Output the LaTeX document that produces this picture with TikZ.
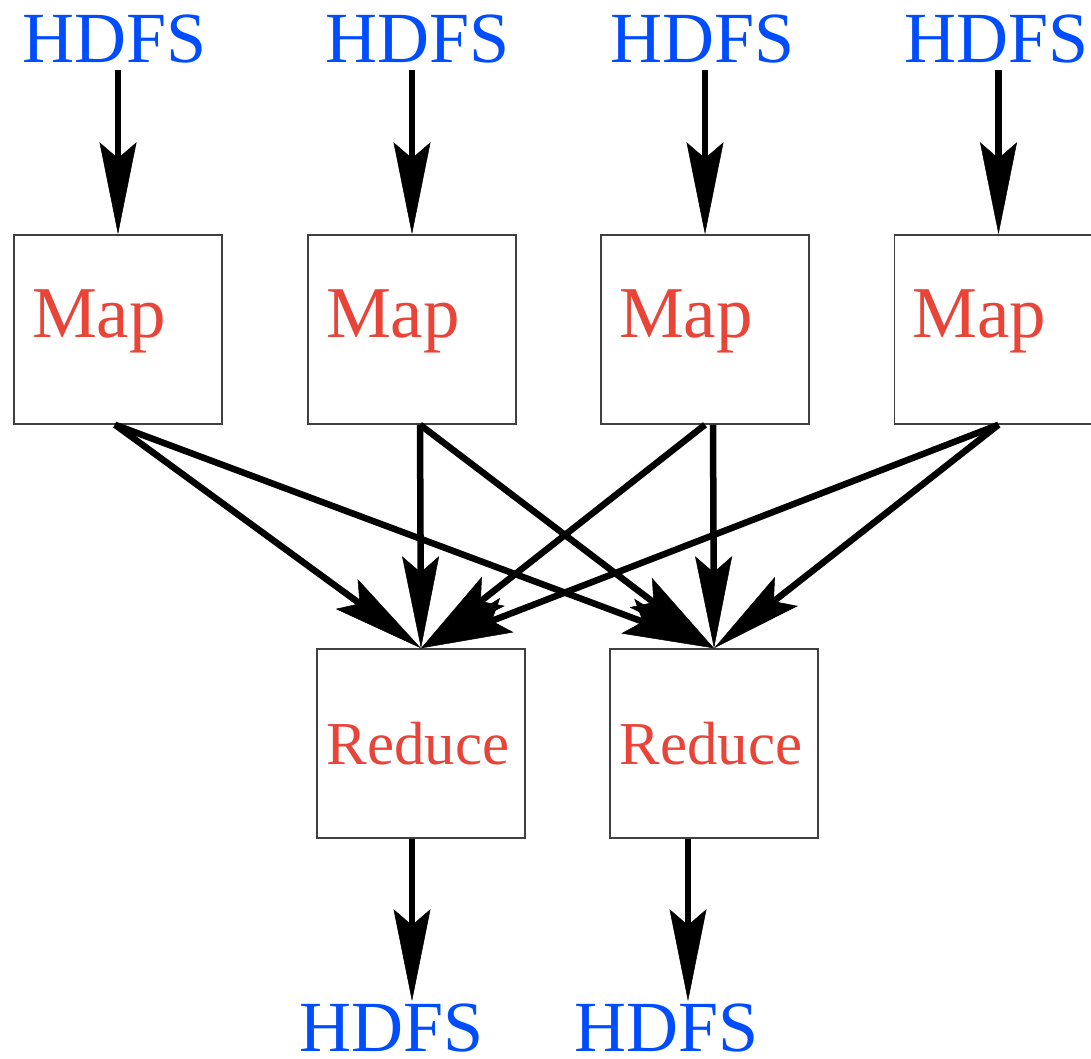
\documentclass[tikz,border=0pt]{standalone}
\usepackage{fontspec}
\setmainfont{Liberation Serif}
\usetikzlibrary{arrows.meta}
\definecolor{hdfsblue}{RGB}{0,76,255}
\definecolor{jobred}{RGB}{232,68,56}
\tikzset{
  hdfs/.style={anchor=base, text=hdfsblue, font=\fontsize{72}{86}\selectfont, inner xsep=0pt},
  mapbox/.style={draw=black!75, line width=1.5pt, text=jobred, font=\fontsize{73}{88}\selectfont,
    text width=172pt, inner xsep=18pt, align=left, text height=48pt, text depth=32pt, minimum height=189pt},
  redbox/.style={draw=black!75, line width=1.5pt, text=jobred, font=\fontsize{61}{73}\selectfont,
    minimum width=208pt, minimum height=189pt, text height=42pt, text depth=0pt},
  flow/.style={line width=6.5pt, -{Stealth[length=92pt, width=37pt, inset=16pt, line width=0.5pt]}}
}
\begin{document}
\begin{tikzpicture}[x=1pt,y=-1pt]
                \useasboundingbox (0,0) rectangle (1091,1058);

                \node[hdfs, inner ysep=7pt] (in1) at (115,62) {HDFS};
                \node[hdfs, inner ysep=7pt] (in2) at (418,62) {HDFS};
                \node[hdfs, inner ysep=7pt] (in3) at (703,62) {HDFS};
                \node[hdfs, inner ysep=7pt] (in4) at (997,62) {HDFS};

                \node[mapbox] (map1) at (118,329.5) {Map};
                \node[mapbox] (map2) at (412,329.5) {Map};
                \node[mapbox] (map3) at (705,329.5) {Map};
                \node[mapbox] (map4) at (998.5,329.5) {Map};

                \node[redbox] (red1) at (421,743.5) {Reduce\hspace*{6pt}};
                \node[redbox] (red2) at (714,743.5) {Reduce\hspace*{6pt}};

                \node[hdfs, inner ysep=2pt] (out1) at (392,1051) {HDFS};
                \node[hdfs, inner ysep=2pt] (out2) at (667,1051) {HDFS};

                \foreach \i in {1,...,4}
                    \draw[flow] (map\i.north |- in\i.south) -- (map\i.north);

                \draw[flow] ([xshift=-3pt]map1.south) -- (red1.north);
                \draw[flow] ([xshift=-3pt]map1.south) -- (red2.north);
                \draw[flow] ([xshift=8pt]map2.south) -- (red1.north);
                \draw[flow] ([xshift=8pt]map2.south) -- (red2.north);
                \draw[flow] (map3.south) -- (red1.north);
                \draw[flow] ([xshift=8pt]map3.south) -- (red2.north);
                \draw[flow] (map4.south) -- (red1.north);
                \draw[flow] (map4.south) -- (red2.north);

                \draw[flow] ([xshift=-9pt]red1.south) -- ([xshift=-9pt]red1.south |- out1.north);
                \draw[flow] ([xshift=-26pt]red2.south) -- ([xshift=-26pt]red2.south |- out2.north);
\end{tikzpicture}
\end{document}
